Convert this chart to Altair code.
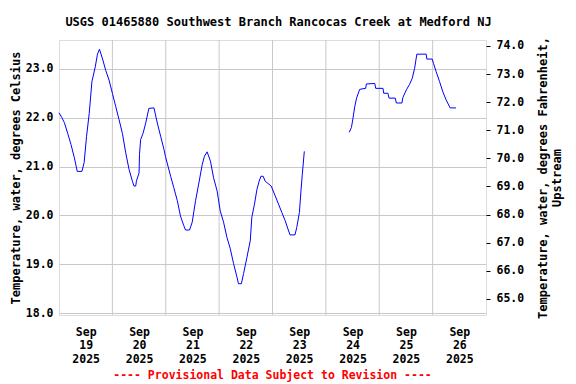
import altair as alt
import pandas as pd

# ---- data (hours since 2025-09-19 00:00, deg C) ----
seg1_hours = [0.0, 1.3, 2.4, 3.9, 5.4, 6.9, 8.2, 10.3, 11.3, 12.4, 13.6, 14.8, 16.3, 17.3, 18.2,
              19.6, 21.0, 22.5, 24.0, 25.5, 27.0, 28.5, 30.0, 31.5, 33.0, 33.7, 34.5, 34.8, 36.0,
              36.2, 36.7, 37.8, 39.0, 40.4, 42.7, 44.2, 45.7, 47.2, 47.9, 50.2, 51.6, 53.2, 54.6,
              56.1, 56.9, 58.7, 59.9, 61.4, 62.8, 64.4, 65.4, 66.6, 68.1, 69.5, 71.1, 72.5, 74.0,
              75.5, 77.0, 78.5, 80.0, 80.7, 82.0, 83.0, 84.5, 86.0, 86.7, 87.9, 89.0, 90.0, 90.8,
              91.8, 92.7, 95.4, 97.2, 98.7, 100.2, 101.7, 103.1, 103.9, 106.1, 106.9, 108.1, 108.8,
              109.4, 110.3]
seg1_temp = [22.1, 22.0, 21.9, 21.68, 21.45, 21.18, 20.9, 20.9, 21.08, 21.62, 22.09, 22.74, 23.04,
             23.3, 23.4, 23.2, 22.97, 22.77, 22.5, 22.23, 21.96, 21.68, 21.28, 20.94, 20.7, 20.6,
             20.6, 20.7, 20.87, 21.25, 21.55, 21.68, 21.89, 22.19, 22.2, 21.89, 21.62, 21.35, 21.2,
             20.8, 20.57, 20.3, 19.99, 19.79, 19.7, 19.7, 19.86, 20.3, 20.64, 21.04, 21.21, 21.3,
             21.11, 20.77, 20.5, 20.09, 19.86, 19.55, 19.32, 19.01, 18.74, 18.6, 18.6, 18.81, 19.14,
             19.48, 19.96, 20.23, 20.53, 20.7, 20.8, 20.8, 20.7, 20.6, 20.4, 20.23, 20.06, 19.89,
             19.7, 19.6, 19.6, 19.75, 20.06, 20.5, 20.84, 21.31]

seg2_hours = [130.5, 131.5, 132.2, 133.0, 133.8, 135.2, 137.9, 138.2, 142.0, 142.4, 145.7, 146.0,
              147.9, 148.4, 151.2, 151.7, 154.2, 154.6, 156.2, 157.6, 158.8, 159.9, 160.9, 165.1,
              165.4, 167.8, 168.4, 169.6, 171.1, 172.6, 174.1, 175.9, 178.5]
seg2_temp = [21.7, 21.8, 21.99, 22.23, 22.4, 22.58, 22.6, 22.69, 22.7, 22.6, 22.6, 22.5, 22.5, 22.4,
             22.4, 22.3, 22.3, 22.41, 22.57, 22.68, 22.8, 23.01, 23.3, 23.3, 23.2, 23.2, 23.11,
             22.94, 22.74, 22.53, 22.36, 22.2, 22.2]

grid_days = ["2025-09-20", "2025-09-21", "2025-09-22", "2025-09-23",
             "2025-09-24", "2025-09-25", "2025-09-26"]
label_days = [19, 20, 21, 22, 23, 24, 25, 26]
c_ticks = [18.0, 19.0, 20.0, 21.0, 22.0, 23.0]
f_ticks = [65.0, 66.0, 67.0, 68.0, 69.0, 70.0, 71.0, 72.0, 73.0, 74.0]
c_domain = [17.96, 23.59]
f_domain = [64.43, 74.21]

title_text = "USGS 01465880 Southwest Branch Rancocas Creek at Medford NJ"
left_title = "Temperature, water, degrees Celsius"
right_title = ["Temperature, water, degrees Fahrenheit,", "Upstream"]
notes = ["---- Provisional Data Subject to Revision ----"]

# ---- build tables ----
base = pd.Timestamp("2025-09-19 00:00")


def to_iso(hours):
    return [(base + pd.Timedelta(hours=h)).strftime("%Y-%m-%dT%H:%M:%S") for h in hours]


df = pd.DataFrame({
    "time": to_iso(seg1_hours) + to_iso(seg2_hours),
    "C": seg1_temp + seg2_temp,
    "seg": ["a"] * len(seg1_hours) + ["b"] * len(seg2_hours),
})
grid_df = pd.DataFrame({"time": [d + "T00:00:00" for d in grid_days]})
note_df = pd.DataFrame({"note": notes})

W, H = 427, 275
FONT = "DejaVu Sans Mono"

x_enc = alt.X(
    "time:T",
    scale=alt.Scale(domain=[alt.DateTime(year=2025, month=9, date=19, hours=0),
                            alt.DateTime(year=2025, month=9, date=27, hours=0)]),
    axis=alt.Axis(
        values=[alt.DateTime(year=2025, month=9, date=d, hours=12) for d in label_days],
        labelExpr="[timeFormat(datum.value, '%b'), timeFormat(datum.value, '%d'), timeFormat(datum.value, '%Y')]",
        grid=False, ticks=False, domain=False, labelPadding=11, labelLineHeight=13.5,
        labelFont=FONT, labelFontSize=11.5, labelFontWeight="bold", labelColor="black",
        title=None, labelFlush=False,
    ),
)

rules = alt.Chart(grid_df).mark_rule(color="#C8C8C8", strokeWidth=1).encode(x=x_enc)

line_c = alt.Chart(df).mark_line(color="#0000FF", strokeWidth=1).encode(
    x=x_enc,
    y=alt.Y("C:Q", scale=alt.Scale(domain=c_domain, nice=False, zero=False),
            axis=alt.Axis(values=c_ticks, format=".1f", grid=True, gridColor="#C8C8C8",
                          ticks=False, domain=False, labelPadding=6, title=left_title,
                          titlePadding=3, labelFont=FONT, labelFontSize=11.5,
                          labelFontWeight="bold", labelColor="black", titleFont=FONT,
                          titleFontSize=12, titleFontWeight="bold", titleColor="black")),
    detail="seg:N",
)

line_f = alt.Chart(df).transform_calculate(F="datum.C * 9 / 5 + 32").mark_line(opacity=0).encode(
    x=x_enc,
    y=alt.Y("F:Q", scale=alt.Scale(domain=f_domain, nice=False, zero=False),
            axis=alt.Axis(orient="right", values=f_ticks, format=".1f", grid=False,
                          ticks=True, tickSize=4, tickColor="black", domain=False,
                          labelPadding=6, title=right_title, titleAngle=270,
                          titlePadding=12, labelFont=FONT, labelFontSize=11.5,
                          labelFontWeight="bold", labelColor="black", titleFont=FONT,
                          titleFontSize=12, titleFontWeight="bold", titleColor="black",
                          titleLineHeight=14)),
    detail="seg:N",
)

note = alt.Chart(note_df).mark_text(
    color="#FF0000", font=FONT, fontSize=11.5, fontWeight="bold", baseline="middle", align="center"
).encode(x=alt.value(W / 2), y=alt.value(H + 61), text="note:N")

chart = alt.layer(rules, line_c, line_f, note).resolve_scale(y="independent").properties(
    width=W, height=H,
    title=alt.TitleParams(title_text, font=FONT, fontSize=12, fontWeight="bold",
                          color="black", anchor="middle", offset=8, dx=6),
    padding={"left": 1, "top": 7, "right": 5, "bottom": 0},
).configure_view(stroke="black", strokeWidth=1).configure(background="white")

chart.save("out.html", embed_options={"renderer": "svg", "actions": False})
